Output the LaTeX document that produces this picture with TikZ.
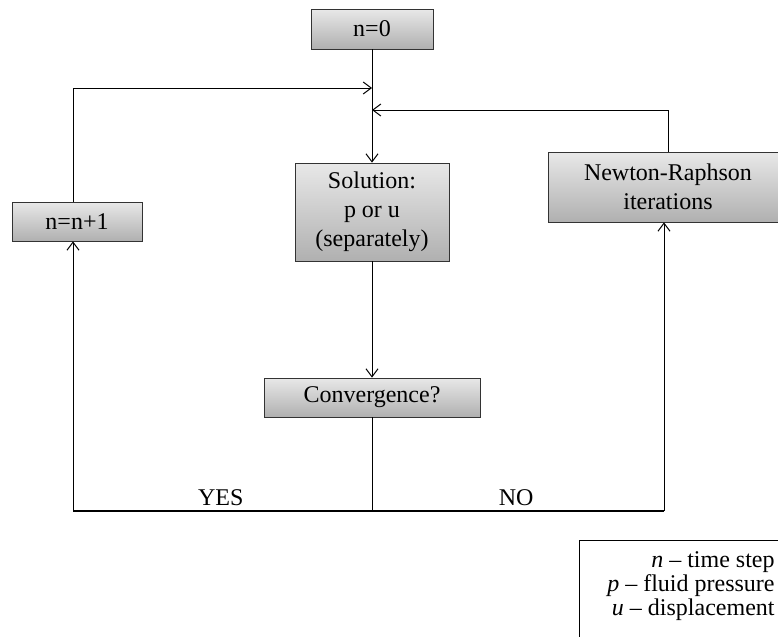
\documentclass[tikz,border=0pt]{standalone}
\usepackage{fontspec}
\setmainfont{Liberation Serif}
\usepackage{tikz}
\usetikzlibrary{arrows.meta,calc}

\begin{document}
\begin{tikzpicture}[x=0.5pt,y=-0.5pt,
    box/.style={draw=black!80,top color=gray!18,bottom color=gray!62,
                inner sep=0pt,align=center,font=\fontsize{12}{14.5}\selectfont},
    arr/.style={-{Straight Barb[length=4pt,width=6pt]},line width=0.5pt},
    lnk/.style={line width=0.5pt},
    lbl/.style={font=\fontsize{12}{14}\selectfont,above=-1pt}]

    \useasboundingbox (0,0) rectangle (778,637);

    % Boxes
    \node[box,minimum width=61pt,minimum height=20pt] (n0) at (372,29) {n=0};
    \node[box,minimum width=77pt,minimum height=49pt] (sol) at (372,212)
      {Solution:\\p or u\\(separately)};
    \node[box,minimum width=65pt,minimum height=19.5pt] (inc) at (77,221.5) {n=n+1};
    \node[box,minimum width=120pt,minimum height=35pt] (nr) at (668,187)
      {Newton-Raphson\\iterations};
    \node[box,minimum width=108pt,minimum height=19.5pt] (conv) at (372,397.5) {Convergence?};

    % Junctions
    \coordinate (jl) at (372,88);
    \coordinate (jr) at (372,110);
    \coordinate (yl) at (73,511);
    \coordinate (yr) at (664,511);

    % Main path
    \draw[arr] (n0) -- (sol);
    \draw[arr] (sol) -- (conv);
    \draw[lnk] (conv) -- (conv |- yl);
    \draw[line width=1pt] (yl) -- (yr)
      node[lbl,pos=0.25] {YES}
      node[lbl,pos=0.75] {NO};

    % YES loop
    \draw[arr] (yl) -- (yl |- inc.south);
    \draw[arr] (yl |- inc.north) -- (yl |- jl) -- (jl);

    % NO loop
    \draw[arr] (yr) -- (yr |- nr.south);
    \draw[arr] (nr.north) -- (nr.north |- jr) -- (jr);

    % Legend
    \draw[lnk] (790,540) -- (579,540) -- (579,650);
    \node[anchor=north east,align=right,inner sep=0pt,
          font=\fontsize{12}{12}\selectfont] (key) at (775,551)
      {\textit{n} -- time step\\\textit{p} -- fluid pressure\\\textit{u} -- displacement};
\end{tikzpicture}
\end{document}
